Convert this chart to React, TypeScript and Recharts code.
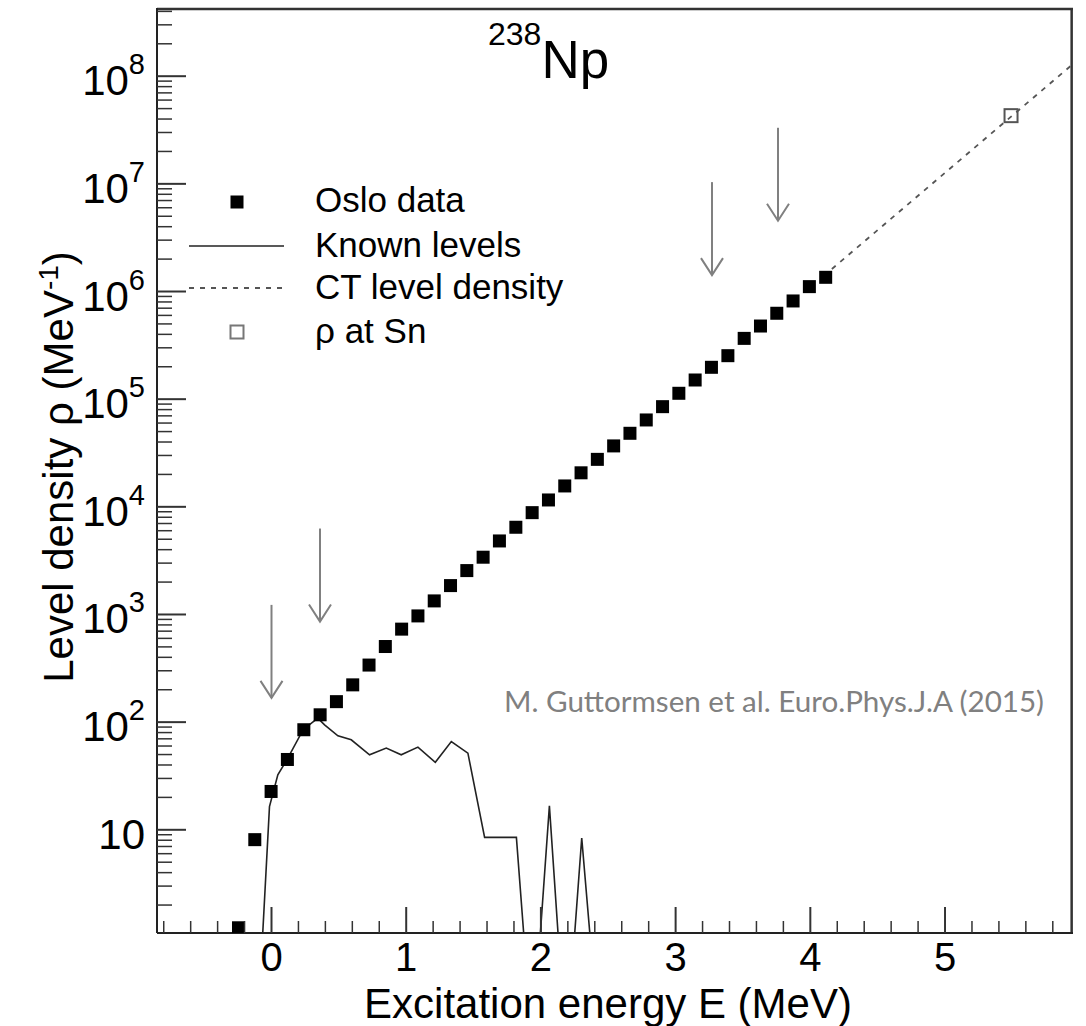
import React from 'react';
import { ComposedChart, Line, Scatter, XAxis, YAxis, ReferenceLine } from 'recharts';

// Oslo method level density, 238Np
const osloE = [-0.245, -0.124, -0.003, 0.118, 0.24, 0.361, 0.482, 0.603, 0.724, 0.845, 0.966, 1.087, 1.208, 1.329, 1.45, 1.571, 1.692, 1.814, 1.935, 2.056, 2.177, 2.298, 2.419, 2.54, 2.661, 2.782, 2.903, 3.024, 3.145, 3.266, 3.388, 3.509, 3.63, 3.751, 3.872, 3.993, 4.114];
const osloRho = [1.23, 8.1, 22.7, 45, 85, 117, 155, 222, 339, 504, 731, 970, 1337, 1855, 2557, 3404, 4820, 6460, 8830, 11580, 15630, 20700, 27600, 36800, 48200, 64100, 85200, 113400, 150700, 197700, 253500, 367000, 478000, 628000, 817000, 1110000, 1355000];

// known discrete levels (1.1 = empty bin, sits on the frame)
const knownE = [-0.065, -0.015, 0.047, 0.117, 0.235, 0.344, 0.394, 0.493, 0.592, 0.728, 0.852, 0.963, 1.087, 1.216, 1.335, 1.458, 1.582, 1.818, 1.872, 1.996, 2.063, 2.127, 2.251, 2.303, 2.363];
const knownRho = [1.1, 16.4, 32.4, 45.3, 85, 109, 94.4, 74.6, 68.5, 49.7, 57.4, 49.7, 58.6, 42.4, 66, 51.5, 8.5, 8.5, 1.1, 1.1, 16.7, 1.1, 1.1, 8.4, 1.1];

// constant temperature extrapolation
const ctE = [4.16, 5.95];
const ctRho = [1.62e6, 1.3e8];

// rho at neutron separation energy
const snE = [5.49];
const snRho = [4.3e7];

// fit-region arrows (tip positions)
const arrowE = [0, 0.36, 3.27, 3.76];
const arrowRho = [168, 860, 1.42e6, 4.54e6];

const xMajor = [0, 1, 2, 3, 4, 5];
const yMajor = [10, 1e2, 1e3, 1e4, 1e5, 1e6, 1e7, 1e8];
const X_DOMAIN: [number, number] = [-0.85, 5.95];
const Y_DOMAIN: [number, number] = [1.1, 4.3e8];
// frame edges, drawn just inside the domain so they are not clipped away
const FRAME_TOP = 4.2e8;
const FRAME_RIGHT = 5.94;

const xTicks: number[] = [];
for (let i = -4; i <= 29; i++) xTicks.push(Math.round(i * 2) / 10);
const yTicks: number[] = [];
for (let n = 0; n <= 8; n++) {
  for (let m = 1; m <= 9; m++) {
    const v = m * Math.pow(10, n);
    if (v >= Y_DOMAIN[0] && v <= Y_DOMAIN[1]) yTicks.push(v);
  }
}

const toPoints = (es: number[], rs: number[]) => es.map((e, i) => ({ e, rho: rs[i] }));
const osloData = toPoints(osloE, osloRho);
const knownData = toPoints(knownE, knownRho);
const ctData = toPoints(ctE, ctRho);
const snData = toPoints(snE, snRho);
const arrowData = toPoints(arrowE, arrowRho);

const XTick = (props: any) => {
  const { x, y, payload } = props;
  const v = payload.value;
  const major = xMajor.includes(v);
  return (
    <g>
      <line x1={x} y1={y} x2={x} y2={y - (major ? 26 : 12)} stroke="#333" strokeWidth={major ? 2 : 1.5} />
      {major && (
        <text x={x} y={y + 38} textAnchor="middle" fontSize={40} fill="#000">
          {String(v)}
        </text>
      )}
    </g>
  );
};

const YTick = (props: any) => {
  const { x, y, payload } = props;
  const v = payload.value;
  const major = yMajor.includes(v);
  const exp = Math.round(Math.log10(v));
  return (
    <g>
      <line x1={x} y1={y} x2={x + (major ? 29 : 15)} y2={y} stroke="#333" strokeWidth={major ? 2 : 1.5} />
      {major && (
        <text x={x - 12} y={y + 19} textAnchor="end" fontSize={42} fill="#000">
          <tspan>10</tspan>
          {exp > 1 && (
            <tspan fontSize={29} dy={-21}>
              {exp}
            </tspan>
          )}
        </text>
      )}
    </g>
  );
};

const OsloSquare = (props: any) => (
  <rect x={props.cx - 6.5} y={props.cy - 6.5} width={13} height={13} fill="#000" />
);

const SnSquare = (props: any) => (
  <rect x={props.cx - 6.5} y={props.cy - 6.5} width={13} height={13} fill="none" stroke="#555" strokeWidth={2} />
);

const Arrow = (props: any) => {
  const { cx, cy } = props;
  return (
    <g stroke="#808080" strokeWidth={2} fill="none">
      <line x1={cx} y1={cy - 93} x2={cx} y2={cy} />
      <polyline points={`${cx - 11},${cy - 17} ${cx},${cy} ${cx + 11},${cy - 17}`} />
    </g>
  );
};

export default function App() {
  return (
    <div
      style={{
        position: 'absolute',
        left: 0,
        top: 0,
        width: 1086,
        height: 1026,
        background: '#fff',
        fontFamily: '"Liberation Sans", Arial, sans-serif',
      }}
    >
      <ComposedChart width={1086} height={1026} margin={{ top: 8, right: 13, bottom: 33, left: 0 }}>
        <XAxis
          dataKey="e"
          type="number"
          domain={X_DOMAIN}
          allowDataOverflow
          ticks={xTicks}
          interval={0}
          tick={<XTick />}
          tickLine={false}
          tickSize={0}
          tickMargin={0}
          height={60}
          axisLine={{ stroke: '#222', strokeWidth: 2 }}
        />
        <YAxis
          dataKey="rho"
          type="number"
          scale="log"
          domain={Y_DOMAIN}
          allowDataOverflow
          ticks={yTicks}
          interval={0}
          tick={<YTick />}
          tickLine={false}
          tickSize={0}
          tickMargin={0}
          width={157}
          axisLine={{ stroke: '#222', strokeWidth: 2 }}
        />
        {/* frame: top and right edges of the plot area */}
        <ReferenceLine y={FRAME_TOP} stroke="#333" strokeWidth={2.5} />
        <ReferenceLine x={FRAME_RIGHT} stroke="#333" strokeWidth={2.5} />
        <Line
          data={knownData}
          dataKey="rho"
          type="linear"
          stroke="#222"
          strokeWidth={1.6}
          dot={false}
          activeDot={false}
          isAnimationActive={false}
        />
        <Line
          data={ctData}
          dataKey="rho"
          type="linear"
          stroke="#555"
          strokeWidth={1.8}
          strokeDasharray="5 6"
          dot={false}
          activeDot={false}
          isAnimationActive={false}
        />
        <Scatter data={osloData} dataKey="rho" shape={OsloSquare} isAnimationActive={false} />
        <Scatter data={snData} dataKey="rho" shape={SnSquare} isAnimationActive={false} />
        <Scatter data={arrowData} dataKey="rho" shape={Arrow} isAnimationActive={false} />
      </ComposedChart>

      <svg
        width={1086}
        height={1026}
        style={{ position: 'absolute', left: 0, top: 0, pointerEvents: 'none' }}
      >
        {/* title */}
        <text x={488} y={45} fill="#000">
          <tspan fontSize={32}>238</tspan>
          <tspan fontSize={53} dy={33}>Np</tspan>
        </text>

        {/* axis titles */}
        <text x={608} y={1018} textAnchor="middle" fontSize={42} fill="#000">
          Excitation energy E (MeV)
        </text>
        <text transform="translate(73,467) rotate(-90)" textAnchor="middle" fontSize={42} fill="#000">
          <tspan>Level density ρ (MeV</tspan>
          <tspan fontSize={28} dy={-15}>-1</tspan>
          <tspan dy={15}>)</tspan>
        </text>

        {/* legend */}
        <rect x={230.5} y={195.5} width={13} height={13} fill="#000" />
        <text x={315} y={212} fontSize={35} fill="#000">Oslo data</text>
        <line x1={189} y1={246} x2={284} y2={246} stroke="#222" strokeWidth={1.6} />
        <text x={315} y={257} fontSize={35} fill="#000">Known levels</text>
        <line x1={189} y1={288} x2={284} y2={288} stroke="#555" strokeWidth={1.8} strokeDasharray="5 6" />
        <text x={315} y={299} fontSize={35} fill="#000">CT level density</text>
        <rect x={230.5} y={325.5} width={13} height={13} fill="none" stroke="#777" strokeWidth={2} />
        <text x={315} y={343} fontSize={35} fill="#000">ρ at Sn</text>

        {/* citation */}
        <text
          x={504}
          y={712}
          fontSize={28}
          fontFamily="Lato, 'Open Sans', sans-serif"
          fill="#808080"
          textLength={540}
          lengthAdjust="spacingAndGlyphs"
        >
          M. Guttormsen et al. Euro.Phys.J.A (2015)
        </text>
      </svg>
    </div>
  );
}
